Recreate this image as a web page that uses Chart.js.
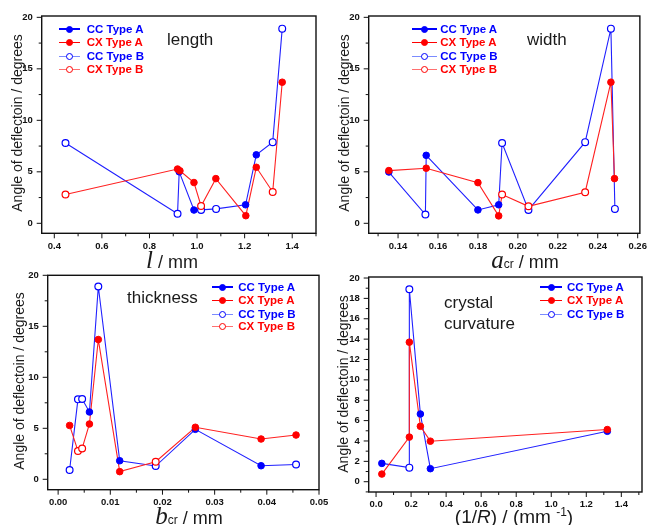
<!DOCTYPE html>
<html>
<head>
<meta charset="utf-8">
<script src="https://cdn.jsdelivr.net/npm/chart.js@4.4.1/dist/chart.umd.min.js"></script>
<style>
  body { margin: 0; background: #fff; }
  #wrap { position: relative; width: 654px; height: 525px; overflow: hidden; font-family: "Liberation Sans", Arial, sans-serif; color: #1a1a1a; }
  canvas { position: absolute; left: 0; top: 0; }
  .ytitle { position: absolute; font-size: 14px; white-space: nowrap; transform: translate(-50%, -50%) rotate(-90deg); }
  .xtitle { position: absolute; font-size: 18px; line-height: 20px; white-space: nowrap; transform: translateX(-50%); }
  .sv { font-family: "Liberation Serif", "DejaVu Serif", serif; font-style: italic; font-size: 25px; line-height: 0; }
  .sub { font-size: 12px; line-height: 0; }
  .note { position: absolute; font-size: 17px; white-space: nowrap; }
  .leg { position: absolute; font-size: 11.5px; font-weight: bold; white-space: nowrap; line-height: 14px; }
  .ln, .mk { position: absolute; }
  .mk { border-radius: 50%; box-sizing: border-box; }
</style>
</head>
<body>
<div id="wrap">
  <canvas id="c1" width="654" height="525"></canvas>
  <canvas id="c2" width="654" height="525"></canvas>
  <canvas id="c3" width="654" height="525"></canvas>
  <canvas id="c4" width="654" height="525"></canvas>

  <div class="ytitle" style="left:17px;top:123px">Angle of deflectoin / degrees</div>
  <div class="ytitle" style="left:344px;top:123px">Angle of deflectoin / degrees</div>
  <div class="ytitle" style="left:19px;top:381px">Angle of deflectoin / degrees</div>
  <div class="ytitle" style="left:343px;top:384px">Angle of deflectoin / degrees</div>

  <div class="xtitle" style="left:172px;top:252px"><span class="sv">l</span> / mm</div>
  <div class="xtitle" style="left:525px;top:252px"><span class="sv">a</span><span class="sub">cr</span> / mm</div>
  <div class="xtitle" style="left:189px;top:508px"><span class="sv">b</span><span class="sub">cr</span> / mm</div>
  <div class="xtitle" style="left:514px;top:507px;font-size:19px">(1/<i>R</i>) / (mm <sup style="font-size:12px;line-height:0">-1</sup>)</div>

  <div class="note" style="left:167px;top:30px">length</div>
  <div class="note" style="left:527px;top:30px">width</div>
  <div class="note" style="left:127px;top:288px">thickness</div>
  <div class="note" style="left:444px;top:292px;line-height:21px">crystal<br>curvature</div>
</div>

<script>
// deflection angle (degrees) vs crystal geometry, [x, angle]
// length l / mm
const lenCcA = [[0.925, 5.0], [0.987, 1.29], [1.204, 1.8], [1.249, 6.65]];
const lenCxA = [[0.918, 5.27], [0.928, 5.1], [0.987, 3.96], [1.079, 4.34], [1.205, 0.74], [1.249, 5.44], [1.358, 13.7]];
const lenCcB = [[0.447, 7.8], [0.918, 0.93], [1.017, 1.3], [1.08, 1.4], [1.318, 7.88], [1.358, 18.9]];
const lenCxB = [[0.447, 2.8], [1.017, 1.68], [1.318, 3.04]];

// width a_cr / mm
const widCcA = [[0.1354, 4.98], [0.1541, 6.6], [0.18, 1.3], [0.1904, 1.8]];
const widCxA = [[0.1354, 5.12], [0.1541, 5.35], [0.18, 3.95], [0.1904, 0.72], [0.2466, 13.7], [0.2484, 4.34]];
const widCcB = [[0.1537, 0.85], [0.1921, 7.8], [0.2053, 1.3], [0.2337, 7.88], [0.2466, 18.9], [0.2486, 1.4]];
const widCxB = [[0.1921, 2.8], [0.2053, 1.65], [0.2337, 3.02]];

// thickness b_cr / mm
const thkCcA = [[0.006, 6.6], [0.0118, 1.82], [0.0263, 4.9], [0.0389, 1.33]];
const thkCxA = [[0.0022, 5.28], [0.006, 5.42], [0.0077, 13.7], [0.0118, 0.75], [0.0263, 5.1], [0.0389, 3.95], [0.0456, 4.34]];
const thkCcB = [[0.0022, 0.91], [0.0038, 7.84], [0.0046, 7.87], [0.0077, 18.9], [0.0187, 1.3], [0.0456, 1.45]];
const thkCxB = [[0.0038, 2.77], [0.0046, 3.02], [0.0187, 1.72]];

// curvature 1/R / mm^-1
const curCcA = [[0.033, 1.8], [0.253, 6.65], [0.31, 1.28], [1.32, 4.95]];
const curCxA = [[0.033, 0.75], [0.19, 4.38], [0.19, 13.7], [0.253, 5.44], [0.31, 3.98], [1.32, 5.12]];
const curCcB = [[0.19, 1.38], [0.19, 18.9]];
const curCxB = [];

// tick labels
const lenTicks = [0.4, 0.6, 0.8, 1.0, 1.2, 1.4];
const widTicks = [0.14, 0.16, 0.18, 0.20, 0.22, 0.24, 0.26];
const thkTicks = [0.00, 0.01, 0.02, 0.03, 0.04, 0.05];
const curTicks = [0.0, 0.2, 0.4, 0.6, 0.8, 1.0, 1.2, 1.4];
const angTicks = [0, 5, 10, 15, 20];
const angTicksFine = [0, 2, 4, 6, 8, 10, 12, 14, 16, 18, 20];

const BLUE = '#0000ff', RED = '#ff0000';

function pairs(a) { return a.map(p => ({ x: p[0], y: p[1] })); }
function joined(a, b) {
  return pairs(a.concat(b).sort((p, q) => p[0] - q[0] || p[1] - q[1]));
}
function halfSteps(t, lo, hi) {
  const st = t[1] - t[0], out = [];
  for (let v = t[0] - st / 2; v <= hi + 1e-9; v += st) if (v >= lo - 1e-9) out.push(v);
  return out;
}

function pointSet(data, color, filled) {
  return {
    data: pairs(data), showLine: false,
    pointRadius: filled ? 3.3 : 3.4, pointBorderWidth: filled ? 1 : 1.2,
    pointBackgroundColor: filled ? color : '#fff', pointBorderColor: color
  };
}
function lineSet(a, b, color) {
  return { data: joined(a, b), showLine: true, borderColor: color, borderWidth: 1.1, pointRadius: 0, tension: 0 };
}

// box + outward ticks, like the Origin frame
const framePlugin = {
  id: 'frame',
  afterDraw(chart, args, o) {
    const { ctx, chartArea: a, scales: { x, y } } = chart;
    ctx.save();
    ctx.strokeStyle = '#111';
    ctx.lineWidth = 1;
    ctx.beginPath();
    o.xMajor.forEach(v => { const p = x.getPixelForValue(v); ctx.moveTo(p, a.bottom); ctx.lineTo(p, a.bottom + 5); });
    o.xMinor.forEach(v => { const p = x.getPixelForValue(v); ctx.moveTo(p, a.bottom); ctx.lineTo(p, a.bottom + 3); });
    o.yMajor.forEach(v => { const p = y.getPixelForValue(v); ctx.moveTo(a.left, p); ctx.lineTo(a.left - 5, p); });
    o.yMinor.forEach(v => { const p = y.getPixelForValue(v); ctx.moveTo(a.left, p); ctx.lineTo(a.left - 3, p); });
    ctx.stroke();
    ctx.lineWidth = 1.4;
    ctx.strokeRect(a.left, a.top, a.right - a.left, a.bottom - a.top);
    ctx.restore();
  }
};

function makeChart(id, p) {
  const [L, T, R, B] = p.box;
  const YW = 40, XH = 25;
  const tickFont = { family: '"Liberation Sans", Arial, sans-serif', size: 9.5, weight: 'bold' };
  new Chart(document.getElementById(id), {
    type: 'scatter',
    data: {
      datasets: [
        pointSet(p.cxA, RED, true),
        pointSet(p.ccA, BLUE, true),
        pointSet(p.cxB, RED, false),
        pointSet(p.ccB, BLUE, false),
        lineSet(p.cxA, p.cxB, '#ff2020'),
        lineSet(p.ccA, p.ccB, '#2020ff')
      ]
    },
    options: {
      responsive: false,
      animation: false,
      events: [],
      layout: { padding: { left: L - YW, top: T, right: 654 - R, bottom: 525 - B - XH } },
      plugins: {
        legend: { display: false },
        tooltip: { enabled: false },
        frame: { xMajor: p.xTicks, xMinor: halfSteps(p.xTicks, p.xMin, p.xMax), yMajor: p.yTicks, yMinor: halfSteps(p.yTicks, p.yMin, p.yMax) }
      },
      scales: {
        x: {
          type: 'linear', min: p.xMin, max: p.xMax,
          afterBuildTicks: s => { s.ticks = p.xTicks.map(v => ({ value: v })); },
          afterFit: s => { s.height = XH; },
          grid: { display: false, drawTicks: false }, border: { display: false },
          ticks: { callback: v => v.toFixed(p.xDec), font: tickFont, color: '#111', padding: 7, maxRotation: 0, autoSkip: false }
        },
        y: {
          type: 'linear', min: p.yMin, max: p.yMax,
          afterBuildTicks: s => { s.ticks = p.yTicks.map(v => ({ value: v })); },
          afterFit: s => { s.width = YW; },
          grid: { display: false, drawTicks: false }, border: { display: false },
          ticks: { callback: v => String(v), font: tickFont, color: '#111', padding: 9, autoSkip: false }
        }
      }
    },
    plugins: [framePlugin]
  });
}

makeChart('c1', { box: [41.7, 16, 316, 233.3], xMin: 0.347, xMax: 1.5, yMin: -0.97, yMax: 20.13,
  xTicks: lenTicks, xDec: 1, yTicks: angTicks, ccA: lenCcA, cxA: lenCxA, ccB: lenCcB, cxB: lenCxB });
makeChart('c2', { box: [368.7, 16, 643, 233.3], xMin: 0.1253, xMax: 0.2611, yMin: -0.97, yMax: 20.13,
  xTicks: widTicks, xDec: 2, yTicks: angTicks, ccA: widCcA, cxA: widCxA, ccB: widCcB, cxB: widCxB });
makeChart('c3', { box: [47.7, 275.3, 319, 489.7], xMin: -0.002, xMax: 0.05, yMin: -1.02, yMax: 20,
  xTicks: thkTicks, xDec: 2, yTicks: angTicks, ccA: thkCcA, cxA: thkCxA, ccB: thkCcB, cxB: thkCxB });
makeChart('c4', { box: [368.7, 277, 642, 492], xMin: -0.042, xMax: 1.518, yMin: -1.01, yMax: 20.1,
  xTicks: curTicks, xDec: 1, yTicks: angTicksFine, ccA: curCcA, cxA: curCxA, ccB: curCcB, cxB: curCxB });

// legends: line with marker, coloured bold label
const wrap = document.getElementById('wrap');
function addLegend(lx, lw, tx, rows) {
  rows.forEach(r => {
    const ln = document.createElement('div');
    ln.className = 'ln';
    ln.style.cssText = `left:${lx}px;top:${r.y - (r.filled ? 0.8 : 0.5)}px;width:${lw}px;height:${r.filled ? 1.6 : 1}px;background:${r.filled ? r.color : r.light}`;
    wrap.appendChild(ln);
    const mk = document.createElement('div');
    mk.className = 'mk';
    mk.style.cssText = `left:${lx + lw / 2 - 3.5}px;top:${r.y - 3.5}px;width:7px;height:7px;border:1.2px solid ${r.color};background:${r.filled ? r.color : '#fff'}`;
    wrap.appendChild(mk);
    const t = document.createElement('div');
    t.className = 'leg';
    t.style.cssText = `left:${tx}px;top:${r.y - 7.5}px;color:${r.color}`;
    t.textContent = r.text;
    wrap.appendChild(t);
  });
}
function legRows(ys, n) {
  const items = [
    { text: 'CC Type A', color: BLUE, light: '#6b6bff', filled: true },
    { text: 'CX Type A', color: RED, light: '#ff6b6b', filled: true },
    { text: 'CC Type B', color: BLUE, light: '#7b8bff', filled: false },
    { text: 'CX Type B', color: RED, light: '#ff7070', filled: false }
  ];
  return items.slice(0, n).map((it, i) => Object.assign({ y: ys[i] }, it));
}
addLegend(59.3, 21, 86.7, legRows([29, 42.3, 56.7, 69], 4));
addLegend(412, 25, 440.3, legRows([29, 42.3, 56.7, 69], 4));
addLegend(211.7, 21.6, 238.3, legRows([287, 300.3, 314.3, 326.3], 4));
addLegend(540.3, 21.7, 567, legRows([287, 300.3, 314.3], 3));
</script>
</body>
</html>
